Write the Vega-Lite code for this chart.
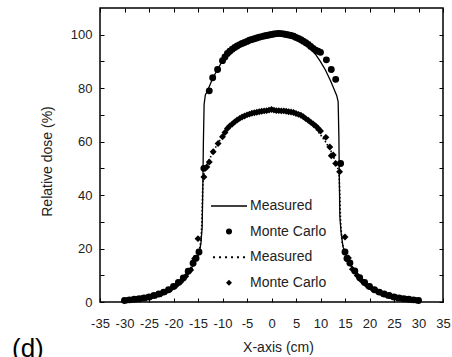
{
 "$schema": "https://vega.github.io/schema/vega-lite/v6.json",
 "width": 343, "height": 294,
 "autosize": {"type": "none"},
 "padding": {"left": 100, "top": 8, "right": 9, "bottom": 55},
 "title": {"text": "(d)", "orient": "bottom", "anchor": "start", "frame": "group", "fontSize": 26, "fontWeight": "normal", "font": "Liberation Sans", "color": "#000", "dx": -88, "offset": -18, "baseline": "top"},
 "data": {"values": [
{"s":"A Measured","x":-30,"y":0.5},{"s":"A Measured","x":-29,"y":0.7},{"s":"A Measured","x":-28,"y":0.9},{"s":"A Measured","x":-27,"y":1.1},{"s":"A Measured","x":-26,"y":1.4},{"s":"A Measured","x":-25,"y":1.8},{"s":"A Measured","x":-24,"y":2.3},{"s":"A Measured","x":-23,"y":2.9},{"s":"A Measured","x":-22,"y":3.6},{"s":"A Measured","x":-21,"y":4.5},{"s":"A Measured","x":-20,"y":5.6},{"s":"A Measured","x":-19,"y":7.0},{"s":"A Measured","x":-18,"y":8.7},{"s":"A Measured","x":-17,"y":10.9},{"s":"A Measured","x":-16,"y":13.7},{"s":"A Measured","x":-15.2,"y":16.5},{"s":"A Measured","x":-14.7,"y":18.8},{"s":"A Measured","x":-14.4,"y":22},{"s":"A Measured","x":-14.15,"y":28},{"s":"A Measured","x":-14.0,"y":45},{"s":"A Measured","x":-13.9,"y":60},{"s":"A Measured","x":-13.75,"y":74},{"s":"A Measured","x":-13.5,"y":77.5},{"s":"A Measured","x":-13,"y":79.3},{"s":"A Measured","x":-12.5,"y":81.5},{"s":"A Measured","x":-12,"y":83.7},{"s":"A Measured","x":-11,"y":87},{"s":"A Measured","x":-10,"y":90.3},{"s":"A Measured","x":-9,"y":92.8},{"s":"A Measured","x":-8,"y":94.5},{"s":"A Measured","x":-7,"y":95.8},{"s":"A Measured","x":-6,"y":96.8},{"s":"A Measured","x":-5,"y":97.6},{"s":"A Measured","x":-4,"y":98.3},{"s":"A Measured","x":-3,"y":98.9},{"s":"A Measured","x":-2,"y":99.4},{"s":"A Measured","x":-1,"y":99.8},{"s":"A Measured","x":0,"y":100.1},{"s":"A Measured","x":1,"y":100.3},{"s":"A Measured","x":2,"y":100.4},{"s":"A Measured","x":3,"y":100.2},{"s":"A Measured","x":4,"y":99.7},{"s":"A Measured","x":5,"y":99.0},{"s":"A Measured","x":6,"y":98.0},{"s":"A Measured","x":7,"y":96.6},{"s":"A Measured","x":8,"y":94.8},{"s":"A Measured","x":9,"y":92.6},{"s":"A Measured","x":10,"y":89.9},{"s":"A Measured","x":11,"y":86.8},{"s":"A Measured","x":12,"y":83.0},{"s":"A Measured","x":12.5,"y":80.8},{"s":"A Measured","x":12.9,"y":79.0},{"s":"A Measured","x":13.3,"y":77.3},{"s":"A Measured","x":13.6,"y":75.0},{"s":"A Measured","x":13.75,"y":62},{"s":"A Measured","x":13.85,"y":45},{"s":"A Measured","x":13.95,"y":32},{"s":"A Measured","x":14.2,"y":26},{"s":"A Measured","x":14.6,"y":20.6},{"s":"A Measured","x":15.1,"y":18},{"s":"A Measured","x":16,"y":14.3},{"s":"A Measured","x":17,"y":11.4},{"s":"A Measured","x":18,"y":9.0},{"s":"A Measured","x":19,"y":7.2},{"s":"A Measured","x":20,"y":5.7},{"s":"A Measured","x":21,"y":4.5},{"s":"A Measured","x":22,"y":3.6},{"s":"A Measured","x":23,"y":2.9},{"s":"A Measured","x":24,"y":2.3},{"s":"A Measured","x":25,"y":1.8},{"s":"A Measured","x":26,"y":1.4},{"s":"A Measured","x":27,"y":1.1},{"s":"A Measured","x":28,"y":0.9},{"s":"A Measured","x":29,"y":0.7},{"s":"A Measured","x":30,"y":0.5},
{"s":"B Measured","x":-30,"y":0.5},{"s":"B Measured","x":-29,"y":0.6},{"s":"B Measured","x":-28,"y":0.8},{"s":"B Measured","x":-27,"y":1.0},{"s":"B Measured","x":-26,"y":1.3},{"s":"B Measured","x":-25,"y":1.6},{"s":"B Measured","x":-24,"y":2.1},{"s":"B Measured","x":-23,"y":2.6},{"s":"B Measured","x":-22,"y":3.3},{"s":"B Measured","x":-21,"y":4.1},{"s":"B Measured","x":-20,"y":5.2},{"s":"B Measured","x":-19,"y":6.5},{"s":"B Measured","x":-18,"y":8.2},{"s":"B Measured","x":-17,"y":10.4},{"s":"B Measured","x":-16,"y":13.2},{"s":"B Measured","x":-15.2,"y":16.8},{"s":"B Measured","x":-14.7,"y":19.5},{"s":"B Measured","x":-14.4,"y":23},{"s":"B Measured","x":-14.2,"y":30},{"s":"B Measured","x":-14.05,"y":42},{"s":"B Measured","x":-13.9,"y":47},{"s":"B Measured","x":-13.5,"y":50},{"s":"B Measured","x":-13,"y":52},{"s":"B Measured","x":-12.5,"y":54},{"s":"B Measured","x":-12,"y":56},{"s":"B Measured","x":-11,"y":59.2},{"s":"B Measured","x":-10,"y":62},{"s":"B Measured","x":-9,"y":64.5},{"s":"B Measured","x":-8,"y":66.5},{"s":"B Measured","x":-7,"y":68.1},{"s":"B Measured","x":-6,"y":69.3},{"s":"B Measured","x":-5,"y":70.2},{"s":"B Measured","x":-4,"y":70.9},{"s":"B Measured","x":-3,"y":71.4},{"s":"B Measured","x":-2,"y":71.7},{"s":"B Measured","x":-1,"y":71.9},{"s":"B Measured","x":0,"y":72.0},{"s":"B Measured","x":1,"y":71.9},{"s":"B Measured","x":2,"y":71.7},{"s":"B Measured","x":3,"y":71.4},{"s":"B Measured","x":4,"y":70.9},{"s":"B Measured","x":5,"y":70.2},{"s":"B Measured","x":6,"y":69.3},{"s":"B Measured","x":7,"y":68.1},{"s":"B Measured","x":8,"y":66.6},{"s":"B Measured","x":9,"y":64.8},{"s":"B Measured","x":10,"y":62.6},{"s":"B Measured","x":11,"y":60.0},{"s":"B Measured","x":12,"y":57.0},{"s":"B Measured","x":12.5,"y":55.2},{"s":"B Measured","x":13,"y":52.8},{"s":"B Measured","x":13.5,"y":50.2},{"s":"B Measured","x":13.8,"y":47.5},{"s":"B Measured","x":13.95,"y":40},{"s":"B Measured","x":14.1,"y":30},{"s":"B Measured","x":14.4,"y":22.5},{"s":"B Measured","x":14.8,"y":19.5},{"s":"B Measured","x":15.2,"y":17.5},{"s":"B Measured","x":16,"y":14.2},{"s":"B Measured","x":17,"y":11.2},{"s":"B Measured","x":18,"y":8.8},{"s":"B Measured","x":19,"y":7.0},{"s":"B Measured","x":20,"y":5.5},{"s":"B Measured","x":21,"y":4.4},{"s":"B Measured","x":22,"y":3.5},{"s":"B Measured","x":23,"y":2.8},{"s":"B Measured","x":24,"y":2.2},{"s":"B Measured","x":25,"y":1.7},{"s":"B Measured","x":26,"y":1.4},{"s":"B Measured","x":27,"y":1.1},{"s":"B Measured","x":28,"y":0.8},{"s":"B Measured","x":29,"y":0.6},{"s":"B Measured","x":30,"y":0.5},
{"s":"A Monte Carlo","x":-30,"y":0.6},{"s":"A Monte Carlo","x":-29,"y":0.8},{"s":"A Monte Carlo","x":-28,"y":1.0},{"s":"A Monte Carlo","x":-27,"y":1.2},{"s":"A Monte Carlo","x":-26,"y":1.5},{"s":"A Monte Carlo","x":-25,"y":1.9},{"s":"A Monte Carlo","x":-24,"y":2.4},{"s":"A Monte Carlo","x":-23,"y":3.0},{"s":"A Monte Carlo","x":-22,"y":3.7},{"s":"A Monte Carlo","x":-21,"y":4.6},{"s":"A Monte Carlo","x":-20,"y":5.8},{"s":"A Monte Carlo","x":-19,"y":7.3},{"s":"A Monte Carlo","x":-18,"y":9.0},{"s":"A Monte Carlo","x":-17,"y":11.5},{"s":"A Monte Carlo","x":-16,"y":14.5},{"s":"A Monte Carlo","x":-15.4,"y":16.4},{"s":"A Monte Carlo","x":-14.8,"y":18.7},{"s":"A Monte Carlo","x":-13.8,"y":50},{"s":"A Monte Carlo","x":-12.7,"y":79},{"s":"A Monte Carlo","x":-12,"y":83.9},{"s":"A Monte Carlo","x":-11,"y":87},{"s":"A Monte Carlo","x":-10,"y":90.3},{"s":"A Monte Carlo","x":-9.5,"y":91.7},{"s":"A Monte Carlo","x":-9,"y":93},{"s":"A Monte Carlo","x":-8.5,"y":93.8},{"s":"A Monte Carlo","x":-8,"y":94.6},{"s":"A Monte Carlo","x":-7.5,"y":95.2},{"s":"A Monte Carlo","x":-7,"y":95.8},{"s":"A Monte Carlo","x":-6.5,"y":96.3},{"s":"A Monte Carlo","x":-6,"y":96.7},{"s":"A Monte Carlo","x":-5.5,"y":97.1},{"s":"A Monte Carlo","x":-5,"y":97.5},{"s":"A Monte Carlo","x":-4.5,"y":97.9},{"s":"A Monte Carlo","x":-4,"y":98.2},{"s":"A Monte Carlo","x":-3.5,"y":98.5},{"s":"A Monte Carlo","x":-3,"y":98.8},{"s":"A Monte Carlo","x":-2.5,"y":99.1},{"s":"A Monte Carlo","x":-2,"y":99.3},{"s":"A Monte Carlo","x":-1.5,"y":99.5},{"s":"A Monte Carlo","x":-1,"y":99.7},{"s":"A Monte Carlo","x":-0.5,"y":99.9},{"s":"A Monte Carlo","x":0,"y":100.1},{"s":"A Monte Carlo","x":0.5,"y":100.3},{"s":"A Monte Carlo","x":1,"y":100.4},{"s":"A Monte Carlo","x":1.5,"y":100.5},{"s":"A Monte Carlo","x":2,"y":100.4},{"s":"A Monte Carlo","x":2.5,"y":100.3},{"s":"A Monte Carlo","x":3,"y":100.1},{"s":"A Monte Carlo","x":3.5,"y":99.9},{"s":"A Monte Carlo","x":4,"y":99.7},{"s":"A Monte Carlo","x":4.5,"y":99.4},{"s":"A Monte Carlo","x":5,"y":99.0},{"s":"A Monte Carlo","x":5.5,"y":98.6},{"s":"A Monte Carlo","x":6,"y":98.1},{"s":"A Monte Carlo","x":6.5,"y":97.6},{"s":"A Monte Carlo","x":7,"y":97.0},{"s":"A Monte Carlo","x":7.5,"y":96.4},{"s":"A Monte Carlo","x":8,"y":95.6},{"s":"A Monte Carlo","x":8.5,"y":94.9},{"s":"A Monte Carlo","x":9,"y":94.2},{"s":"A Monte Carlo","x":9.5,"y":93.8},{"s":"A Monte Carlo","x":10,"y":93.4},{"s":"A Monte Carlo","x":11.2,"y":90.6},{"s":"A Monte Carlo","x":12.2,"y":87},{"s":"A Monte Carlo","x":13.1,"y":83.3},{"s":"A Monte Carlo","x":14.1,"y":51.8},{"s":"A Monte Carlo","x":15,"y":18.7},{"s":"A Monte Carlo","x":15.4,"y":16.3},{"s":"A Monte Carlo","x":16,"y":14.6},{"s":"A Monte Carlo","x":17,"y":11.6},{"s":"A Monte Carlo","x":18,"y":9.1},{"s":"A Monte Carlo","x":19,"y":7.3},{"s":"A Monte Carlo","x":20,"y":5.8},{"s":"A Monte Carlo","x":21,"y":4.6},{"s":"A Monte Carlo","x":22,"y":3.7},{"s":"A Monte Carlo","x":23,"y":3.0},{"s":"A Monte Carlo","x":24,"y":2.4},{"s":"A Monte Carlo","x":25,"y":1.9},{"s":"A Monte Carlo","x":26,"y":1.5},{"s":"A Monte Carlo","x":27,"y":1.2},{"s":"A Monte Carlo","x":28,"y":1.0},{"s":"A Monte Carlo","x":29,"y":0.8},{"s":"A Monte Carlo","x":30,"y":0.6},
{"s":"B Monte Carlo","x":-30,"y":0.5},{"s":"B Monte Carlo","x":-29.5,"y":0.6},{"s":"B Monte Carlo","x":-28.5,"y":0.8},{"s":"B Monte Carlo","x":-27.5,"y":1.0},{"s":"B Monte Carlo","x":-26.5,"y":1.3},{"s":"B Monte Carlo","x":-25.5,"y":1.6},{"s":"B Monte Carlo","x":-24.5,"y":2.0},{"s":"B Monte Carlo","x":-23.5,"y":2.5},{"s":"B Monte Carlo","x":-22.5,"y":3.1},{"s":"B Monte Carlo","x":-21.5,"y":3.9},{"s":"B Monte Carlo","x":-20.5,"y":4.9},{"s":"B Monte Carlo","x":-19.5,"y":6.1},{"s":"B Monte Carlo","x":-18.5,"y":7.6},{"s":"B Monte Carlo","x":-17.5,"y":9.6},{"s":"B Monte Carlo","x":-16.5,"y":12.0},{"s":"B Monte Carlo","x":-15.7,"y":16.2},{"s":"B Monte Carlo","x":-15,"y":23.7},{"s":"B Monte Carlo","x":-13.8,"y":46.8},{"s":"B Monte Carlo","x":-13.2,"y":50.5},{"s":"B Monte Carlo","x":-12.7,"y":52.4},{"s":"B Monte Carlo","x":-11.9,"y":56.2},{"s":"B Monte Carlo","x":-10.9,"y":59.3},{"s":"B Monte Carlo","x":-10,"y":61.8},{"s":"B Monte Carlo","x":-9.5,"y":63.4},{"s":"B Monte Carlo","x":-9,"y":64.9},{"s":"B Monte Carlo","x":-8.5,"y":65.9},{"s":"B Monte Carlo","x":-8,"y":66.6},{"s":"B Monte Carlo","x":-7.5,"y":67.4},{"s":"B Monte Carlo","x":-7,"y":68.1},{"s":"B Monte Carlo","x":-6.5,"y":68.7},{"s":"B Monte Carlo","x":-6,"y":69.2},{"s":"B Monte Carlo","x":-5.5,"y":69.6},{"s":"B Monte Carlo","x":-5,"y":70.0},{"s":"B Monte Carlo","x":-4.5,"y":70.3},{"s":"B Monte Carlo","x":-4,"y":70.6},{"s":"B Monte Carlo","x":-3.5,"y":70.8},{"s":"B Monte Carlo","x":-3,"y":71.0},{"s":"B Monte Carlo","x":-2.5,"y":71.2},{"s":"B Monte Carlo","x":-2,"y":71.4},{"s":"B Monte Carlo","x":-1.5,"y":71.5},{"s":"B Monte Carlo","x":-1,"y":71.6},{"s":"B Monte Carlo","x":-0.5,"y":71.8},{"s":"B Monte Carlo","x":0,"y":72.0},{"s":"B Monte Carlo","x":0.5,"y":71.8},{"s":"B Monte Carlo","x":1,"y":71.6},{"s":"B Monte Carlo","x":1.5,"y":71.6},{"s":"B Monte Carlo","x":2,"y":71.5},{"s":"B Monte Carlo","x":2.5,"y":71.5},{"s":"B Monte Carlo","x":3,"y":71.4},{"s":"B Monte Carlo","x":3.5,"y":71.2},{"s":"B Monte Carlo","x":4,"y":71.1},{"s":"B Monte Carlo","x":4.5,"y":70.9},{"s":"B Monte Carlo","x":5,"y":70.5},{"s":"B Monte Carlo","x":5.5,"y":70.2},{"s":"B Monte Carlo","x":6,"y":69.9},{"s":"B Monte Carlo","x":6.5,"y":69.3},{"s":"B Monte Carlo","x":7,"y":68.6},{"s":"B Monte Carlo","x":7.5,"y":68.0},{"s":"B Monte Carlo","x":8,"y":67.3},{"s":"B Monte Carlo","x":8.5,"y":66.6},{"s":"B Monte Carlo","x":9,"y":65.9},{"s":"B Monte Carlo","x":9.5,"y":65.0},{"s":"B Monte Carlo","x":10,"y":64.0},{"s":"B Monte Carlo","x":11.1,"y":61.6},{"s":"B Monte Carlo","x":11.9,"y":58.0},{"s":"B Monte Carlo","x":12.2,"y":54.7},{"s":"B Monte Carlo","x":12.6,"y":55.0},{"s":"B Monte Carlo","x":13.1,"y":51.8},{"s":"B Monte Carlo","x":13.9,"y":48.7},{"s":"B Monte Carlo","x":15,"y":24.3},{"s":"B Monte Carlo","x":15.7,"y":16.5},{"s":"B Monte Carlo","x":16.5,"y":12.3},{"s":"B Monte Carlo","x":17.5,"y":9.9},{"s":"B Monte Carlo","x":18.5,"y":7.8},{"s":"B Monte Carlo","x":19.5,"y":6.2},{"s":"B Monte Carlo","x":20.5,"y":5.0},{"s":"B Monte Carlo","x":21.5,"y":4.0},{"s":"B Monte Carlo","x":22.5,"y":3.2},{"s":"B Monte Carlo","x":23.5,"y":2.5},{"s":"B Monte Carlo","x":24.5,"y":2.0},{"s":"B Monte Carlo","x":25.5,"y":1.6},{"s":"B Monte Carlo","x":26.5,"y":1.3},{"s":"B Monte Carlo","x":27.5,"y":1.0},{"s":"B Monte Carlo","x":28.5,"y":0.8},{"s":"B Monte Carlo","x":29.5,"y":0.6},{"s":"B Monte Carlo","x":30,"y":0.5}
 ]},
 "layer": [
  {
   "transform": [{"filter": "datum.s === 'A Measured'"}],
   "mark": {"type": "line", "color": "black", "strokeWidth": 1.3},
   "encoding": {
    "x": {"field": "x", "type": "quantitative", "scale": {"domain": [-35, 35], "nice": false},
     "axis": {"orient": "bottom", "values": [-35,-30,-25,-20,-15,-10,-5,0,5,10,15,20,25,30,35], "labelExpr": "toString(datum.value)", "labelOverlap": false, "labelFlush": false, "tickSize": -4, "labelPadding": 19, "title": "X-axis (cm)", "titleX": 178, "titleY": 45, "titleBaseline": "middle"}},
    "y": {"field": "y", "type": "quantitative", "scale": {"domain": [0, 110], "nice": false},
     "axis": {"orient": "left", "values": [0,10,20,30,40,50,60,70,80,90,100], "labelExpr": "datum.value % 20 === 0 ? datum.label : ''", "labelOverlap": false, "labelFlush": false, "tickSize": -4, "labelPadding": 12, "title": "Relative dose (%)", "titleX": -53, "titleY": 153, "titleAngle": -90, "titleAlign": "center", "titleBaseline": "middle"}}
   }
  },
  {
   "transform": [{"filter": "datum.s === 'B Measured'"}],
   "mark": {"type": "line", "color": "black", "strokeWidth": 1.6, "strokeDash": [1.5, 2.2]},
   "encoding": {
    "x": {"field": "x", "type": "quantitative", "axis": null},
    "y": {"field": "y", "type": "quantitative", "axis": null}
   }
  },
  {
   "transform": [{"filter": "datum.s === 'A Monte Carlo' || datum.s === 'B Monte Carlo'"}],
   "mark": {"type": "point", "filled": true, "color": "black", "opacity": 1, "size": 48},
   "encoding": {
    "x": {"field": "x", "type": "quantitative", "axis": {"orient": "top", "values": [-35,-30,-25,-20,-15,-10,-5,0,5,10,15,20,25,30,35], "labels": false, "tickSize": -4, "title": null}},
    "y": {"field": "y", "type": "quantitative", "axis": {"orient": "right", "values": [0,10,20,30,40,50,60,70,80,90,100], "labels": false, "tickSize": -4, "title": null}},
    "shape": {"field": "s", "type": "nominal",
     "scale": {"domain": ["A Measured", "A Monte Carlo", "B Measured", "B Monte Carlo"],
      "range": ["M-6,-0.22H6V0.22H-6Z", "circle", "M-5.33,-0.33h0.67v0.67h-0.67zM-3.33,-0.33h0.67v0.67h-0.67zM-1.33,-0.33h0.67v0.67h-0.67zM0.67,-0.33h0.67v0.67h-0.67zM2.67,-0.33h0.67v0.67h-0.67zM4.67,-0.33h0.67v0.67h-0.67z", "diamond"]},
     "legend": {"title": null, "orient": "none", "legendX": 122, "legendY": 191, "labelExpr": "substring(datum.label, 2)", "symbolSize": 36, "labelFontSize": 14, "labelFont": "Liberation Sans", "labelColor": "#222", "rowPadding": 11.6, "labelOffset": 14, "symbolStrokeWidth": 0, "padding": 0}}
   }
  }
 ],
 "resolve": {"axis": {"x": "independent", "y": "independent"}},
 "config": {
  "view": {"stroke": "black", "strokeWidth": 1.5},
  "axis": {"grid": false, "domain": false, "tickColor": "black", "tickWidth": 1, "labelFont": "Liberation Sans", "labelFontSize": 13, "labelColor": "#222", "titleFont": "Liberation Sans", "titleFontSize": 14, "titleFontWeight": "normal", "titleColor": "#222"}
 }
}
